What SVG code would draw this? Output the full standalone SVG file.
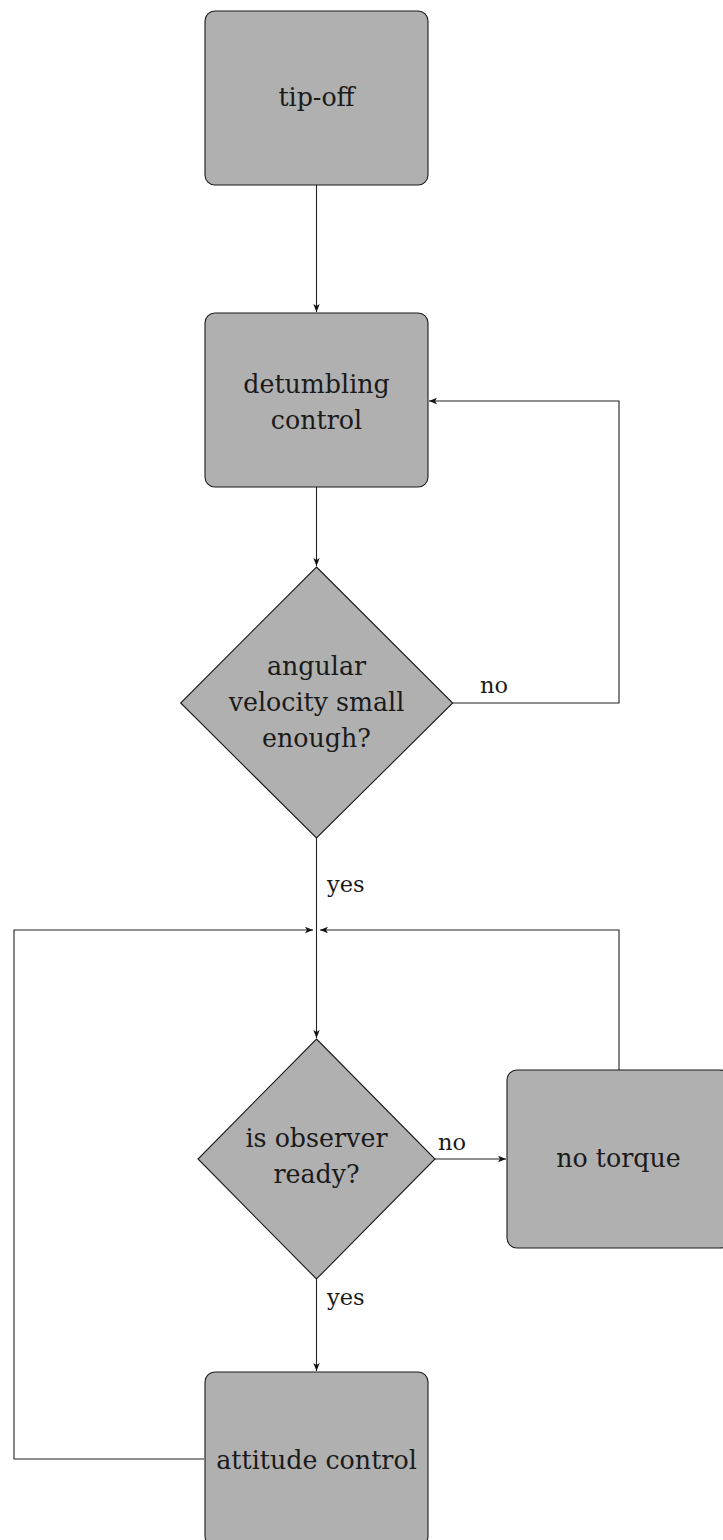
<svg xmlns="http://www.w3.org/2000/svg" width="723" height="1540" viewBox="0 0 723 1540">
<style>
.n{fill:#b0b0b0;stroke:#1a1a1a;stroke-width:1.1}
.t{font-family:"DejaVu Serif","Liberation Serif",serif;font-size:25.3px;fill:#1a1a1a;text-anchor:middle}
.l{font-family:"DejaVu Serif","Liberation Serif",serif;font-size:22.5px;fill:#1a1a1a}
.c{fill:none;stroke:#222;stroke-width:1.1}
</style>
<defs>
<marker id="ah" markerUnits="userSpaceOnUse" markerWidth="9" markerHeight="8" refX="8" refY="4" orient="auto">
<path d="M0,0.8 L8,4 L0,7.2 L2,4 Z" fill="#111"/>
</marker>
</defs>
<g id="connectors">
<path class="c" d="M316.5,185 V312" marker-end="url(#ah)"/>
<path class="c" d="M316.5,487 V566" marker-end="url(#ah)"/>
<path class="c" d="M452.7,703 H619 V401 H429" marker-end="url(#ah)"/>
<path class="c" d="M316.5,838 V1038" marker-end="url(#ah)"/>
<path class="c" d="M619,1070 V930 H320" marker-end="url(#ah)"/>
<path class="c" d="M204,1459 H14 V930 H313" marker-end="url(#ah)"/>
<path class="c" d="M435,1159 H506" marker-end="url(#ah)"/>
<path class="c" d="M316.5,1279 V1371" marker-end="url(#ah)"/>
<text class="l" x="480" y="693">no</text>
<text class="l" x="327" y="892">yes</text>
<text class="l" x="438" y="1150">no</text>
<text class="l" x="327" y="1305">yes</text>
</g>
<g id="tipoff">
<rect class="n" x="205" y="11" width="223" height="174" rx="10"/>
<text class="t" x="316.5" y="106">tip-off</text>
</g>
<g id="detumbling">
<rect class="n" x="205" y="313" width="223" height="174" rx="10"/>
<text class="t" x="316.5" y="393">detumbling</text>
<text class="t" x="316.5" y="429">control</text>
</g>
<g id="angular">
<polygon class="n" points="316.5,567 452.7,703 316.5,838 180.7,703"/>
<text class="t" x="316.5" y="675">angular</text>
<text class="t" x="316.5" y="711">velocity small</text>
<text class="t" x="316.5" y="747">enough?</text>
</g>
<g id="observer">
<polygon class="n" points="316.5,1039 435,1159 316.5,1279 198,1159"/>
<text class="t" x="316.5" y="1147">is observer</text>
<text class="t" x="316.5" y="1183">ready?</text>
</g>
<g id="notorque">
<rect class="n" x="507" y="1070" width="223" height="178" rx="10"/>
<text class="t" x="618.5" y="1167">no torque</text>
</g>
<g id="attitude">
<rect class="n" x="205" y="1372" width="223" height="174" rx="10"/>
<text class="t" x="316.5" y="1469">attitude control</text>
</g>
</svg>
